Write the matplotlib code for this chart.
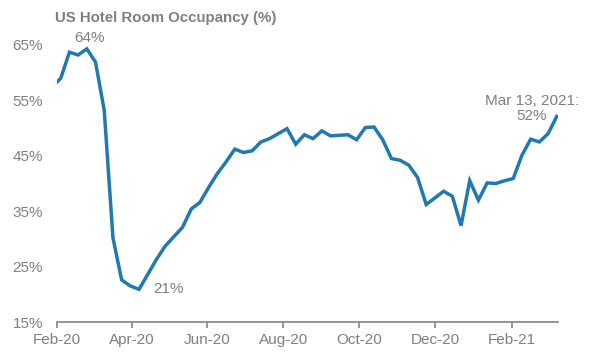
import numpy as np
import pandas as pd
import matplotlib
matplotlib.use("Agg")
import matplotlib.pyplot as plt

plt.rcParams['font.family'] = ['Liberation Sans', 'DejaVu Sans']

# weekly occupancy (%), week ending Saturday
weeks = pd.date_range("2020-02-01", "2021-03-13", freq="7D")
occupancy = [57.4, 59.0, 63.7, 63.2, 64.3, 61.9, 53.2, 30.2, 22.6, 21.5,
             20.9, 23.6, 26.3, 28.7, 30.4, 32.1, 35.4, 36.6, 39.3, 41.8,
             43.9, 46.2, 45.6, 45.9, 47.5, 48.1, 49.0, 49.9, 47.1, 48.8,
             48.1, 49.5, 48.6, 48.7, 48.8, 47.9, 50.1, 50.2, 47.9, 44.5,
             44.2, 43.3, 41.1, 36.2, 37.4, 38.6, 37.7, 32.4, 40.5, 37.0,
             40.1, 40.0, 40.5, 40.9, 45.1, 48.0, 47.5, 49.0, 52.1]

tick_dates = pd.to_datetime(["2020-02-05", "2020-04-05", "2020-06-05", "2020-08-05",
                             "2020-10-05", "2020-12-05", "2021-02-05"])
tick_labels = ["Feb-20", "Apr-20", "Jun-20", "Aug-20", "Oct-20", "Dec-20", "Feb-21"]
y_ticks = [15, 25, 35, 45, 55, 65]

gray = "#7f7f7f"
blue = "#2179b0"

fig = plt.figure(figsize=(5.92, 3.56), dpi=100)
ax = fig.add_axes([57/592, 1-322/356, 501/592, 277/356])

ax.plot(weeks, occupancy, color=blue, lw=2.5, solid_joinstyle='miter')

ax.set_xlim(pd.Timestamp("2020-02-05"), pd.Timestamp("2021-03-14"))
ax.set_ylim(15, 65)
ax.set_xticks(tick_dates)
ax.set_xticklabels(tick_labels)
ax.set_yticks(y_ticks)
ax.set_yticklabels([f"{v}%" for v in y_ticks])

for s in ["top", "right", "left"]:
    ax.spines[s].set_visible(False)
ax.spines["bottom"].set_color("#8c8c8c")
ax.spines["bottom"].set_linewidth(1.3)
ax.tick_params(axis="x", colors="#8c8c8c", length=4, width=1.3, labelcolor=gray,
               labelsize=11, pad=4)
ax.tick_params(axis="y", length=0, labelcolor=gray, labelsize=11, pad=10)

# annotations
i_max = int(np.argmax(occupancy))
i_min = int(np.argmin(occupancy))
ax.annotate(f"{occupancy[i_max]:.0f}%", (weeks[i_max], occupancy[i_max]),
            xytext=(2, 3), textcoords="offset points", ha="center", va="bottom",
            color=gray, fontsize=11)
ax.annotate(f"{occupancy[i_min]:.0f}%", (weeks[i_min], occupancy[i_min]),
            xytext=(10, 0), textcoords="offset points", ha="left", va="center",
            color=gray, fontsize=11)
ax.annotate(f"Mar 13, 2021:\n{occupancy[-1]:.0f}%", (weeks[-1], occupancy[-1]),
            xytext=(-18, -5), textcoords="offset points", ha="center", va="bottom",
            color=gray, fontsize=11, multialignment="center", linespacing=1.1,
            annotation_clip=False)

fig.text(55/592, 1-18/356, "US Hotel Room Occupancy (%)", color=gray,
         fontsize=10.8, fontweight="bold", ha="left", va="center")

fig.savefig("out.png", dpi=100)
